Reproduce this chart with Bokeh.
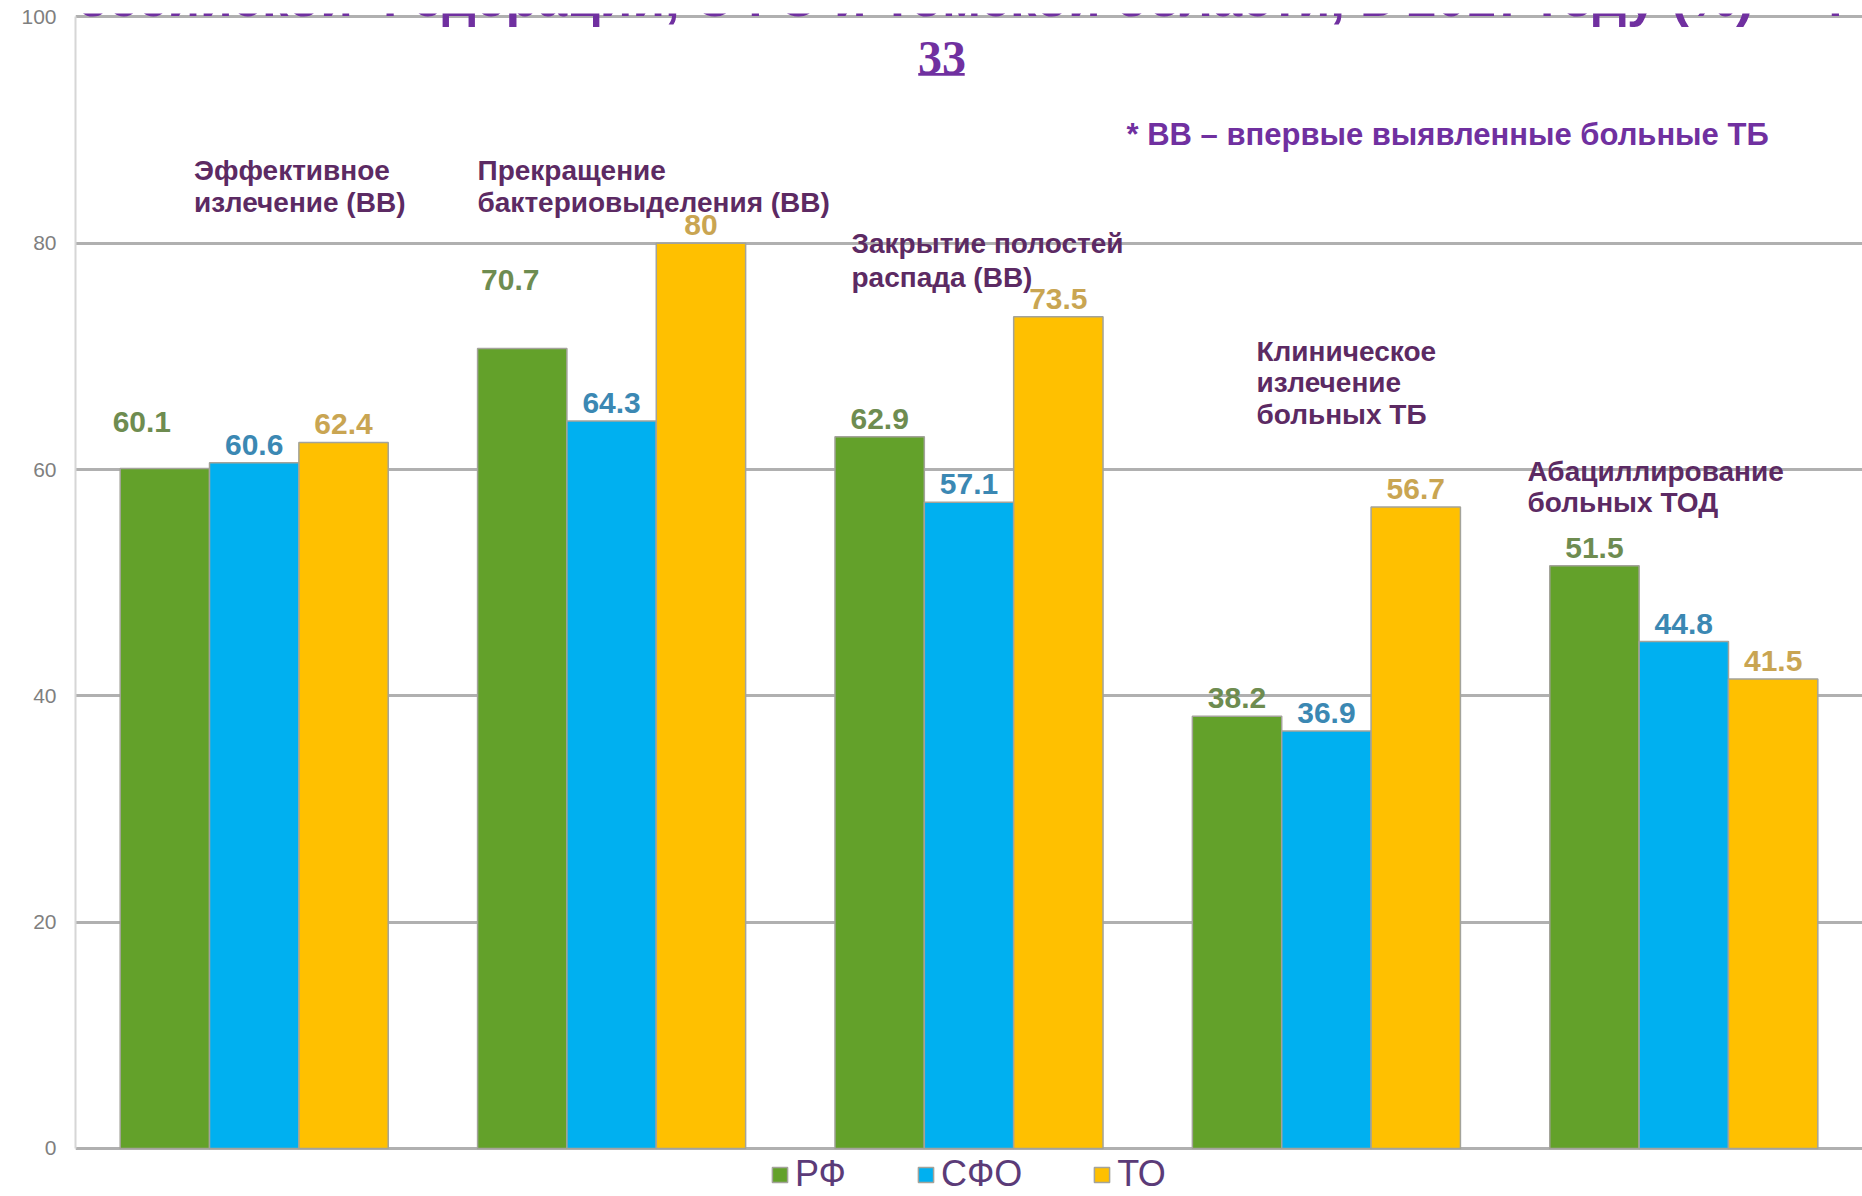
from bokeh.plotting import figure
from bokeh.models import (FactorRange, Range1d, Label, Legend, LegendItem,
                          ColumnDataSource, BoxAnnotation)
from bokeh.transform import dodge
from bokeh.core.properties import value
from bokeh.embed import file_html
from bokeh.resources import INLINE

# ---- data -------------------------------------------------------------
categories = ["Эффективное излечение (ВВ)",
              "Прекращение бактериовыделения (ВВ)",
              "Закрытие полостей распада (ВВ)",
              "Клиническое излечение больных ТБ",
              "Абациллирование больных ТОД"]
category_lines = [["Эффективное", "излечение (ВВ)"],
                  ["Прекращение", "бактериовыделения (ВВ)"],
                  ["Закрытие полостей", "распада (ВВ)"],
                  ["Клиническое", "излечение", "больных ТБ"],
                  ["Абациллирование", "больных ТОД"]]
series_names = ["РФ", "СФО", "ТО"]
rf_values = [60.1, 70.7, 62.9, 38.2, 51.5]
sfo_values = [60.6, 64.3, 57.1, 36.9, 44.8]
to_values = [62.4, 80.0, 73.5, 56.7, 41.5]
y_ticks = [0, 20, 40, 60, 80, 100]

title_text = "в Российской Федерации, СФО и Томской области, в 2017 году (%) – Ф"
subtitle_text = "33"
footnote_text = "* ВВ – впервые выявленные больные ТБ"

# ---- styling ------------------------------------------------------------
bar_colors = ["#63a12a", "#00b0f0", "#ffc000"]
label_colors = ["#6e8c50", "#3b88b3", "#c9a552"]
purple = "#7030a0"
cat_color = "#5c2a63"
label_font = value("Liberation Sans")

# per-label pixel nudges (layout only)
dx = {"РФ": [-23, -12, 0, 0, 0], "СФО": [0] * 5, "ТО": [0] * 5}
dy = {"РФ": [-46, -68, -18, -18, -18], "СФО": [-18] * 5, "ТО": [-18] * 5}

def fmt(v):
    return f"{v:g}"

src = ColumnDataSource(dict(
    cat=categories,
    rf=rf_values, sfo=sfo_values, to=to_values,
    rf_lbl=[fmt(v) for v in rf_values],
    sfo_lbl=[fmt(v) for v in sfo_values],
    to_lbl=[fmt(v) for v in to_values],
    rf_dx=dx["РФ"], rf_dy=dy["РФ"],
    sfo_dx=dx["СФО"], sfo_dy=dy["СФО"],
    to_dx=dx["ТО"], to_dy=dy["ТО"],
))

# frame runs to the bottom edge so the legend below the zero line is not clipped
p = figure(x_range=FactorRange(*categories, range_padding=0),
           y_range=Range1d(-4.242, 100.3),
           width=1862, height=1196,
           output_backend="svg", toolbar_location=None,
           min_border_left=75, min_border_right=0,
           min_border_top=13, min_border_bottom=0)
p.outline_line_color = None
p.background_fill_color = "white"
p.border_fill_color = "white"

p.xaxis.visible = False
p.xgrid.grid_line_color = None
p.ygrid.grid_line_color = "#b0b0b0"
p.ygrid.grid_line_width = 3

p.yaxis.ticker = y_ticks
p.yaxis.bounds = (0, 100)
p.yaxis.major_tick_line_color = None
p.yaxis.minor_tick_line_color = None
p.yaxis.axis_line_color = "#d6d6d6"
p.yaxis.axis_line_width = 2
p.yaxis.major_label_text_font = "Liberation Sans"
p.yaxis.major_label_text_font_size = "21px"
p.yaxis.major_label_text_color = "#7f7f7f"
p.yaxis.major_label_standoff = 13

offsets = [-0.25, 0.0, 0.25]
keys = ["rf", "sfo", "to"]
renderers = []
for key, off, col, lcol in zip(keys, offsets, bar_colors, label_colors):
    r = p.vbar(x=dodge("cat", off, range=p.x_range), top=key, bottom=0, width=0.25,
               source=src, fill_color=col, line_color="#a3a39a", line_width=1.5)
    renderers.append(r)
    p.text(x=dodge("cat", off, range=p.x_range), y=key, text=key + "_lbl",
           x_offset=key + "_dx", y_offset=key + "_dy", source=src,
           text_align="center", text_baseline="middle",
           text_font=label_font, text_font_style="bold",
           text_font_size="30px", text_color=lcol)

# category captions (positions in data units)
cat_x = [0.3316, 1.1248, 2.1712, 3.3044, 4.0627]
cat_y = [[86.40, 83.57], [86.40, 83.57], [79.95, 76.94],
         [70.41, 67.67, 64.84], [59.81, 57.07]]
for lines, cx, ys in zip(category_lines, cat_x, cat_y):
    for line, cy in zip(lines, ys):
        p.add_layout(Label(x=cx, y=cy, text=line, text_align="left",
                           text_baseline="middle", text_font="Liberation Sans",
                           text_font_style="bold", text_font_size="28px",
                           text_color=cat_color))

# footnote, clipped title, page number
p.add_layout(Label(x=2.9407, y=89.58, text=footnote_text, text_align="left",
                   text_baseline="middle", text_font="Liberation Sans",
                   text_font_style="bold", text_font_size="31px", text_color=purple))
p.add_layout(Label(x=-0.224, y=101.72, text=title_text, text_align="left",
                   text_baseline="middle", text_font="Liberation Sans",
                   text_font_style="bold", text_font_size="53px", text_color=purple))
p.add_layout(Label(x=2.4245, y=96.38, text=subtitle_text, text_align="center",
                   text_baseline="middle", text_font="Liberation Serif",
                   text_font_style="bold", text_font_size="48px", text_color=purple))
p.add_layout(BoxAnnotation(left=2.358, right=2.488, bottom=94.79, top=95.05,
                           fill_color=purple, fill_alpha=1, line_color=None))

legend = Legend(items=[LegendItem(label=n, renderers=[r])
                       for n, r in zip(series_names, renderers)],
                orientation="horizontal", location=(695, 1),
                glyph_width=19, glyph_height=19, label_standoff=6, spacing=70,
                padding=0, margin=0, border_line_color=None,
                background_fill_alpha=0,
                label_text_font="Liberation Sans", label_text_font_size="36px",
                label_text_color="#5b3b78")
p.add_layout(legend, "center")

open("out.html", "w").write(file_html(p, INLINE))
